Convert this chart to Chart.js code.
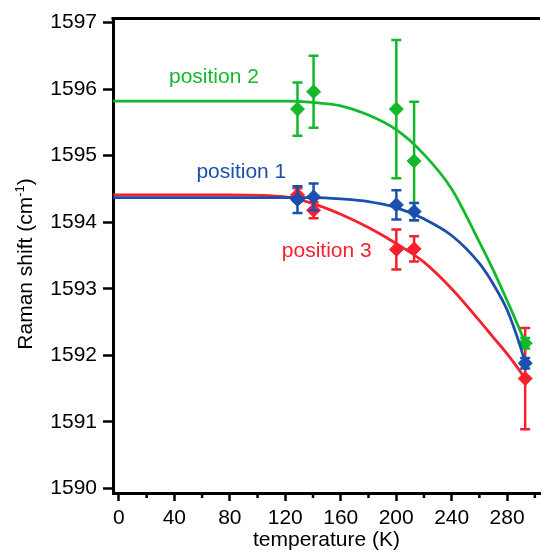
<!DOCTYPE html>
<html>
<head>
<meta charset="utf-8">
<script src="https://cdn.jsdelivr.net/npm/chart.js@4.4.1/dist/chart.umd.min.js"></script>
<style>
  html, body { margin: 0; padding: 0; background: #fff; }
  #wrap { width: 548px; height: 553px; position: relative; }
</style>
</head>
<body>
<div id="wrap"><canvas id="ramanChart"></canvas></div>
<script>
// measured temperatures (K)
const measT = [128.8, 140.4, 200.1, 212.9, 293];

// Raman shift and error per position
const pos1Shift = [1594.34, 1594.38, 1594.26, 1594.16, 1591.88];
const pos1Err   = [0.20, 0.20, 0.22, 0.13, 0.08];
const pos2Shift = [1595.70, 1595.96, 1595.70, 1594.92, 1592.18];
const pos2Err   = [0.40, 0.54, 1.04, 0.89, 0.08];
const pos3Shift = [1594.41, 1594.18, 1593.59, 1593.60, 1591.65];
const pos3Err   = [0.10, 0.12, 0.30, 0.19, 0.76];

// fitted curves
const fitT    = [-4, 40, 80, 120, 140, 160, 180, 200, 220, 240, 260, 270, 280, 290, 293];
const fit1 = [1594.37, 1594.37, 1594.37, 1594.37, 1594.37, 1594.35, 1594.31, 1594.22, 1594.05, 1593.80, 1593.38, 1593.07, 1592.68, 1592.10, 1591.88];
const fit2 = [1595.82, 1595.82, 1595.82, 1595.82, 1595.80, 1595.75, 1595.61, 1595.39, 1595.02, 1594.50, 1593.70, 1593.28, 1592.82, 1592.34, 1592.18];
const fit3 = [1594.41, 1594.41, 1594.41, 1594.38, 1594.28, 1594.12, 1593.92, 1593.68, 1593.40, 1593.00, 1592.52, 1592.27, 1592.02, 1591.74, 1591.65];

// axis ticks
const xTicks = [0, 20, 40, 60, 80, 100, 120, 140, 160, 180, 200, 220, 240, 260, 280, 300];
const yTicks = [1590, 1591, 1592, 1593, 1594, 1595, 1596, 1597];

// label text and anchor (data coords)
const labelText = ['position 1', 'position 2', 'position 3'];
const labelT    = [55.9, 36.1, 117.5];
const labelY    = [1594.67, 1596.09, 1593.47];

const BLUE = '#1a4fae';
const GREEN = '#14b82b';
const RED = '#f5212d';
const labelColor = [BLUE, GREEN, RED];

const FONT = "'Liberation Sans', Arial, Helvetica, sans-serif";
Chart.defaults.font.family = FONT;
Chart.defaults.color = '#000';

const pts = (xs, ys) => xs.map((x, i) => ({ x: x, y: ys[i] }));

function fitSet(ys, color, order) {
    return {
        data: pts(fitT, ys),
        borderColor: color,
        borderWidth: 2.8,
        pointRadius: 0,
        cubicInterpolationMode: 'monotone',
        fill: false,
        order: order
    };
}

function markSet(ys, errs, color, order) {
    return {
        data: pts(measT, ys),
        errors: errs,
        showLine: false,
        pointStyle: 'rectRot',
        pointRadius: 7,
        pointBorderWidth: 1,
        backgroundColor: color,
        borderColor: color,
        order: order
    };
}

// error bars, drawn just before each marker set
const errorBars = {
    id: 'errorBars',
    beforeDatasetDraw(chart, args) {
        const ds = chart.data.datasets[args.index];
        if (!ds.errors) return;
        const ctx = chart.ctx;
        const x = chart.scales.x, y = chart.scales.y;
        ctx.save();
        ctx.strokeStyle = ds.borderColor;
        ctx.lineWidth = 2.5;
        ds.data.forEach((p, i) => {
            const px = x.getPixelForValue(p.x);
            const top = y.getPixelForValue(p.y + ds.errors[i]);
            const bot = y.getPixelForValue(p.y - ds.errors[i]);
            ctx.beginPath();
            ctx.moveTo(px, top); ctx.lineTo(px, bot);
            ctx.moveTo(px - 5, top); ctx.lineTo(px + 5, top);
            ctx.moveTo(px - 5, bot); ctx.lineTo(px + 5, bot);
            ctx.stroke();
        });
        ctx.restore();
    }
};

// frame top line, minor x ticks, y title and series labels
const decor = {
    id: 'decor',
    afterDraw(chart) {
        const ctx = chart.ctx;
        const a = chart.chartArea;
        const x = chart.scales.x, y = chart.scales.y;
        ctx.save();
        ctx.strokeStyle = '#000';
        ctx.lineWidth = 3;
        ctx.beginPath();
        ctx.moveTo(a.left - 1.5, a.top); ctx.lineTo(a.right, a.top);
        ctx.stroke();

        ctx.lineWidth = 2.5;
        xTicks.filter(v => v % 40 !== 0).forEach(v => {
            const px = x.getPixelForValue(v);
            ctx.beginPath();
            ctx.moveTo(px, a.bottom); ctx.lineTo(px, a.bottom + 5);
            ctx.stroke();
        });

        // y axis title with superscript
        ctx.translate(31.5, 264);
        ctx.rotate(-Math.PI / 2);
        ctx.fillStyle = '#000';
        ctx.textBaseline = 'alphabetic';
        const main = 'Raman shift (cm';
        const sup = '-1';
        ctx.font = '21px ' + FONT;
        const w1 = ctx.measureText(main).width;
        const w3 = ctx.measureText(')').width;
        ctx.font = '13px ' + FONT;
        const w2 = ctx.measureText(sup).width;
        let sx = -(w1 + w2 + w3) / 2;
        ctx.font = '21px ' + FONT;
        ctx.fillText(main, sx, 0);
        ctx.font = '13px ' + FONT;
        ctx.fillText(sup, sx + w1, -8);
        ctx.font = '21px ' + FONT;
        ctx.fillText(')', sx + w1 + w2, 0);
        ctx.restore();

        ctx.save();
        ctx.font = '21px ' + FONT;
        ctx.textBaseline = 'alphabetic';
        ctx.textAlign = 'left';
        labelText.forEach((t, i) => {
            ctx.fillStyle = labelColor[i];
            ctx.fillText(t, x.getPixelForValue(labelT[i]), y.getPixelForValue(labelY[i]));
        });
        ctx.restore();
    }
};

const ctx = document.getElementById('ramanChart').getContext('2d');
new Chart(ctx, {
    type: 'line',
    data: {
        datasets: [
            fitSet(fit3, RED, 6),
            markSet(pos3Shift, pos3Err, RED, 5),
            fitSet(fit2, GREEN, 4),
            markSet(pos2Shift, pos2Err, GREEN, 3),
            fitSet(fit1, BLUE, 2),
            markSet(pos1Shift, pos1Err, BLUE, 1)
        ]
    },
    options: {
        responsive: true,
        maintainAspectRatio: false,
        animation: false,
        layout: { padding: { top: 16, right: 0, left: 0, bottom: 0 } },
        plugins: { legend: { display: false }, tooltip: { enabled: false } },
        scales: {
            x: {
                type: 'linear',
                min: -4.25,
                max: 303.7,
                afterBuildTicks: s => { s.ticks = xTicks.map(v => ({ value: v })); },
                afterFit: s => { s.height = 60; },
                border: { display: true, color: '#000', width: 3 },
                grid: {
                    drawOnChartArea: false,
                    drawTicks: true,
                    tickLength: 8,
                    tickWidth: 2.5,
                    tickColor: c => (c.tick && c.tick.value % 40 === 0) ? '#000' : 'rgba(0,0,0,0)'
                },
                ticks: {
                    autoSkip: false,
                    maxRotation: 0,
                    padding: 5,
                    font: { size: 21 },
                    color: '#000',
                    callback: v => (v % 40 === 0 ? String(v) : '')
                },
                title: {
                    display: true,
                    text: 'temperature (K)',
                    font: { size: 21 },
                    color: '#000',
                    padding: { top: 0, bottom: 0 }
                }
            },
            y: {
                type: 'linear',
                min: 1589.93,
                max: 1597.06,
                afterBuildTicks: s => { s.ticks = yTicks.map(v => ({ value: v })); },
                afterFit: s => { s.width = 113; },
                border: { display: true, color: '#000', width: 3 },
                grid: {
                    drawOnChartArea: false,
                    drawTicks: true,
                    tickLength: 10,
                    tickWidth: 2.5,
                    tickColor: '#000'
                },
                ticks: {
                    padding: 6,
                    font: { size: 21 },
                    color: '#000',
                    callback: v => String(v)
                }
            }
        }
    },
    plugins: [errorBars, decor]
});
</script>
</body>
</html>
